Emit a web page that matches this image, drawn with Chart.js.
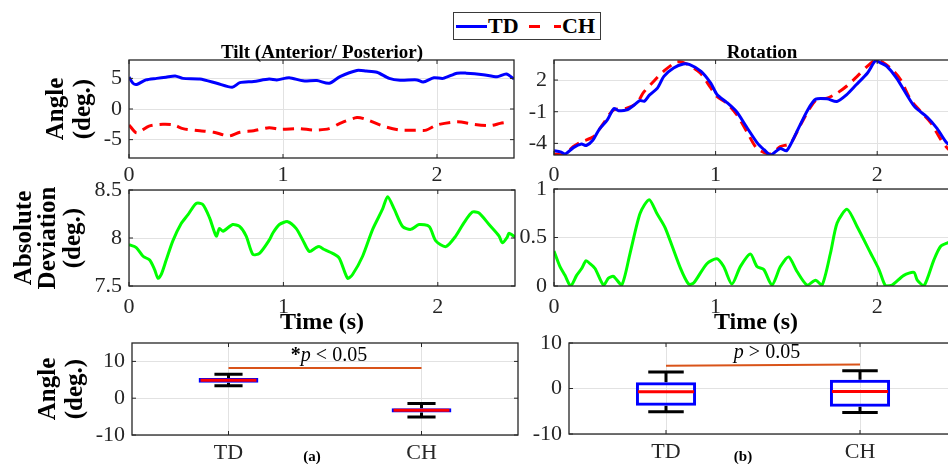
<!DOCTYPE html>
<html>
<head>
<meta charset="utf-8">
<script src="https://cdn.jsdelivr.net/npm/chart.js@4/dist/chart.umd.min.js"></script>
<style>
  body { margin: 0; width: 948px; height: 464px; overflow: hidden; background: #fff; position: relative; }
  canvas { position: absolute; left: 0; top: 0; }
  #legend { position: absolute; left: 453px; top: 12px; width: 146px; height: 26px; border: 1px solid #3a3a3a; background: #fff; z-index: 5;
            font-family: "Liberation Serif", serif; font-weight: bold; font-size: 22px; color: #000; }
  #legend .ln { position: absolute; top: 12px; height: 0; }
  #legend .lbl { position: absolute; top: 0; line-height: 26px; }
</style>
</head>
<body>
<div id="legend">
  <span class="ln" style="left:2px;width:31px;border-top:3px solid #0000ff"></span>
  <span class="lbl" style="left:34px">TD</span>
  <span class="ln" style="left:75px;width:11px;border-top:3px solid #ff0000"></span>
  <span class="ln" style="left:100px;width:7px;border-top:3px solid #ff0000"></span>
  <span class="lbl" style="left:108px">CH</span>
</div>
<canvas id="tilt" width="980" height="464"></canvas>
<canvas id="rot" width="980" height="464"></canvas>
<canvas id="tiltDev" width="980" height="464"></canvas>
<canvas id="rotDev" width="980" height="464"></canvas>
<canvas id="tiltBox" width="980" height="464"></canvas>
<canvas id="rotBox" width="980" height="464"></canvas>
<script>
// ---- data ----
const timeTicks = [0, 1, 2];

const tiltTdTime = [0, 0.026, 0.05, 0.11, 0.18, 0.24, 0.30, 0.35, 0.46, 0.57, 0.67, 0.72, 0.81, 0.91, 0.96, 1.04, 1.13, 1.22, 1.30, 1.37, 1.48, 1.54, 1.61, 1.69, 1.76, 1.87, 1.91, 1.98, 2.04, 2.13, 2.19, 2.30, 2.39, 2.45, 2.50];
const tiltTd = [5.2, 4.2, 4.0, 4.75, 5.0, 5.2, 5.4, 5.0, 4.9, 4.2, 3.55, 4.3, 4.5, 4.9, 4.75, 5.1, 4.6, 4.65, 4.2, 5.3, 6.3, 6.2, 6.0, 5.0, 4.7, 4.75, 4.4, 5.1, 5.0, 5.85, 5.85, 5.6, 5.25, 5.7, 4.9];
const tiltChTime = [0, 0.05, 0.13, 0.22, 0.29, 0.35, 0.46, 0.55, 0.65, 0.72, 0.81, 0.91, 0.98, 1.11, 1.20, 1.30, 1.37, 1.48, 1.54, 1.65, 1.76, 1.87, 1.93, 2.0, 2.13, 2.24, 2.35, 2.41, 2.45];
const tiltCh = [-2.6, -3.9, -2.8, -2.5, -2.6, -3.2, -3.55, -3.8, -4.4, -3.8, -3.55, -3.06, -3.3, -3.2, -3.45, -3.2, -2.35, -1.4, -1.7, -2.8, -3.45, -3.45, -3.45, -2.6, -2.1, -2.5, -2.7, -2.35, -2.2];
const tiltYTicks = [-5, 0, 5];

const rotTdTime = [0, 0.04, 0.07, 0.12, 0.17, 0.20, 0.24, 0.28, 0.33, 0.37, 0.40, 0.45, 0.49, 0.53, 0.56, 0.59, 0.64, 0.68, 0.74, 0.80, 0.84, 0.91, 0.97, 1.01, 1.07, 1.13, 1.19, 1.26, 1.30, 1.34, 1.40, 1.44, 1.50, 1.57, 1.62, 1.69, 1.75, 1.81, 1.87, 1.94, 1.99, 2.02, 2.06, 2.12, 2.23, 2.31, 2.37, 2.43, 2.50];
const rotTd = [-4.7, -4.8, -5.0, -4.4, -4.06, -4.2, -3.7, -2.67, -1.78, -0.7, -0.9, -0.83, -0.44, 0.06, 0.0, 0.57, 1.24, 2.35, 3.14, 3.52, 3.46, 2.83, 1.71, 0.6, -0.13, -1.0, -2.4, -4.0, -4.6, -5.1, -4.48, -4.7, -2.98, -0.83, 0.19, 0.22, -0.03, 0.6, 1.55, 2.67, 3.84, 3.62, 3.3, 2.19, -0.5, -1.52, -2.57, -3.94, -4.6];
const rotChTime = [0, 0.058, 0.12, 0.171, 0.244, 0.306, 0.368, 0.45, 0.512, 0.554, 0.616, 0.678, 0.76, 0.822, 0.905, 0.967, 1.008, 1.07, 1.132, 1.194, 1.256, 1.339, 1.401, 1.463, 1.525, 1.587, 1.628, 1.69, 1.752, 1.814, 1.876, 1.938, 1.99, 2.041, 2.103, 2.145, 2.207, 2.269, 2.331, 2.393, 2.442, 2.5];
const rotCh = [-5.0, -5.1, -4.3, -3.84, -3.37, -2.1, -0.83, -0.67, -0.19, 0.83, 1.87, 2.83, 3.71, 3.52, 2.67, 1.33, 0.44, -0.19, -1.3, -2.9, -4.48, -5.0, -4.3, -4.0, -2.25, -0.57, 0.19, 0.29, 0.76, 1.46, 2.35, 3.3, 3.87, 3.62, 2.83, 2.03, 0.13, -0.98, -2.03, -3.62, -4.57, -5.0];
const rotYTicks = [-4, -1, 2];

const tiltDevTime = [0, 0.047, 0.091, 0.134, 0.166, 0.188, 0.209, 0.241, 0.284, 0.338, 0.381, 0.435, 0.478, 0.522, 0.565, 0.586, 0.608, 0.672, 0.716, 0.759, 0.802, 0.845, 0.909, 0.931, 0.974, 1.028, 1.082, 1.125, 1.168, 1.211, 1.233, 1.265, 1.319, 1.362, 1.416, 1.448, 1.513, 1.578, 1.642, 1.675, 1.718, 1.772, 1.825, 1.879, 1.944, 1.987, 2.052, 2.116, 2.17, 2.224, 2.267, 2.332, 2.397, 2.418, 2.45, 2.461, 2.5];
const tiltDev = [7.93, 7.9, 7.81, 7.77, 7.67, 7.58, 7.62, 7.77, 7.97, 8.15, 8.24, 8.36, 8.35, 8.21, 8.02, 8.1, 8.07, 8.14, 8.12, 8.02, 7.83, 7.84, 7.98, 8.05, 8.14, 8.17, 8.1, 7.98, 7.86, 7.9, 7.91, 7.88, 7.84, 7.79, 7.58, 7.62, 7.81, 8.09, 8.3, 8.43, 8.3, 8.12, 8.09, 8.14, 8.12, 7.97, 7.91, 8.02, 8.16, 8.27, 8.26, 8.14, 8.02, 7.95, 8.01, 8.05, 8.01];
const tiltDevTicks = [7.5, 8, 8.5];

const rotDevTime = [0, 0.037, 0.068, 0.103, 0.14, 0.171, 0.198, 0.223, 0.254, 0.306, 0.337, 0.368, 0.419, 0.471, 0.533, 0.589, 0.636, 0.688, 0.781, 0.833, 0.864, 0.946, 1.008, 1.05, 1.101, 1.153, 1.215, 1.256, 1.298, 1.349, 1.401, 1.452, 1.504, 1.566, 1.618, 1.659, 1.711, 1.752, 1.814, 1.876, 1.959, 2.011, 2.052, 2.093, 2.165, 2.227, 2.248, 2.289, 2.351, 2.393, 2.442, 2.5];
const rotDev = [0.36, 0.2, 0.11, 0.0, 0.11, 0.18, 0.26, 0.23, 0.18, 0.01, 0.08, 0.1, 0.01, 0.34, 0.75, 0.89, 0.75, 0.6, 0.19, 0.02, 0.03, 0.23, 0.28, 0.2, 0.02, 0.2, 0.33, 0.2, 0.17, 0.01, 0.2, 0.3, 0.15, 0.01, 0.06, 0.01, 0.34, 0.65, 0.79, 0.61, 0.34, 0.17, 0.0, 0.01, 0.11, 0.14, 0.06, 0.0, 0.27, 0.41, 0.45, 0.5];
const rotDevTicks = [0, 0.5, 1];

const groups = ['TD', 'CH'];
const tiltBoxMin = [3.4, -5.1];
const tiltBoxQ1 = [4.2, -3.9];
const tiltBoxMedian = [4.9, -3.3];
const tiltBoxQ3 = [5.5, -2.7];
const tiltBoxMax = [6.5, -1.45];
const tiltPLine = [8.2, 8.2];

const rotBoxMin = [-5.1, -5.3];
const rotBoxQ1 = [-3.8, -4.0];
const rotBoxMedian = [-0.7, -0.65];
const rotBoxQ3 = [1.4, 1.9];
const rotBoxMax = [3.6, 3.9];
const rotPLine = [5.0, 5.3];

const boxYTicks = [-10, 0, 10];

// ---- styling helpers ----
const W = 980, H = 464;
const SERIF = '"Liberation Serif", "Times New Roman", serif';
const GRID = '#e2e2e2';
const AXIS = '#262626';
Chart.defaults.font.family = SERIF;
Chart.defaults.color = AXIS;

const tickFont = { family: SERIF, size: 22, lineHeight: 1.2 };

function fixedTicks(values) {
  return scale => { scale.ticks = values.map(v => ({ value: v })); };
}

function layoutFor(box, yWidth, xHeight) {
  return { padding: { left: box.left - yWidth, top: box.top, right: W - box.right, bottom: H - box.bottom - xHeight } };
}

function points(xs, ys) {
  return xs.map((x, i) => ({ x: x, y: ys[i] }));
}

function drawRuns(ctx, runs, cx, cy) {
  let total = 0;
  runs.forEach(r => { ctx.font = r.font; total += ctx.measureText(r.text).width; });
  let x = cx - total / 2;
  ctx.textAlign = 'left';
  ctx.textBaseline = 'middle';
  runs.forEach(r => { ctx.font = r.font; ctx.fillText(r.text, x, cy); x += ctx.measureText(r.text).width; });
}

// frame, inward ticks and free texts
const decor = {
  id: 'decor',
  afterDraw(chart, args, opts) {
    const { ctx, chartArea: a } = chart;
    const xs = chart.scales.x, ys = chart.scales.y;
    ctx.save();
    ctx.strokeStyle = AXIS;
    ctx.lineWidth = 1.3;
    ctx.strokeRect(a.left, a.top, a.right - a.left, a.bottom - a.top);
    ctx.lineWidth = 1;
    ctx.beginPath();
    xs.ticks.forEach((t, i) => {
      const px = xs.getPixelForTick(i);
      ctx.moveTo(px, a.bottom); ctx.lineTo(px, a.bottom - 4);
      ctx.moveTo(px, a.top); ctx.lineTo(px, a.top + 4);
    });
    ys.ticks.forEach((t, i) => {
      const py = ys.getPixelForTick(i);
      ctx.moveTo(a.left, py); ctx.lineTo(a.left + 4, py);
      ctx.moveTo(a.right, py); ctx.lineTo(a.right - 4, py);
    });
    ctx.stroke();
    ctx.fillStyle = '#000';
    (opts.texts || []).forEach(t => drawRuns(ctx, t.runs, t.x, t.y));
    ctx.restore();
  }
};

// whiskers, medians and the p-value label
const boxPlot = {
  id: 'boxPlot',
  beforeDatasetsDraw(chart, args, opts) {
    const { ctx } = chart;
    const y = chart.scales.y;
    const bars = chart.getDatasetMeta(0).data;
    ctx.save();
    ctx.strokeStyle = '#000';
    ctx.lineWidth = 3;
    bars.forEach((bar, i) => {
      const half = bar.width / 2 * opts.capRatio;
      const top = y.getPixelForValue(opts.max[i]);
      const bottom = y.getPixelForValue(opts.min[i]);
      ctx.beginPath();
      ctx.moveTo(bar.x, top); ctx.lineTo(bar.x, y.getPixelForValue(opts.q3[i]));
      ctx.moveTo(bar.x, bottom); ctx.lineTo(bar.x, y.getPixelForValue(opts.q1[i]));
      ctx.moveTo(bar.x - half, top); ctx.lineTo(bar.x + half, top);
      ctx.moveTo(bar.x - half, bottom); ctx.lineTo(bar.x + half, bottom);
      ctx.stroke();
    });
    ctx.restore();
  },
  afterDatasetsDraw(chart, args, opts) {
    const { ctx } = chart;
    const x = chart.scales.x, y = chart.scales.y;
    const bars = chart.getDatasetMeta(0).data;
    ctx.save();
    ctx.strokeStyle = '#ff0000';
    ctx.lineWidth = 3;
    bars.forEach((bar, i) => {
      const py = y.getPixelForValue(opts.median[i]);
      ctx.beginPath();
      ctx.moveTo(bar.x - bar.width / 2 + 2, py); ctx.lineTo(bar.x + bar.width / 2 - 2, py);
      ctx.stroke();
    });
    const cx = (x.getPixelForValue(0) + x.getPixelForValue(1)) / 2 + 4;
    const cy = y.getPixelForValue(Math.max(...opts.pLine)) - 12;
    ctx.fillStyle = '#000';
    drawRuns(ctx, opts.pText, cx, cy);
    ctx.restore();
  }
};

function lineChart(id, box, o) {
  return new Chart(document.getElementById(id), {
    type: 'line',
    data: { datasets: o.datasets },
    options: {
      responsive: false,
      animation: false,
      events: [],
      layout: layoutFor(box, o.yWidth, o.xHeight),
      elements: { point: { radius: 0 }, line: { tension: 0.25 } },
      plugins: { legend: { display: false }, tooltip: { enabled: false }, decor: { texts: o.texts || [] } },
      scales: {
        x: {
          type: 'linear', min: 0, max: 2.5,
          afterBuildTicks: fixedTicks(timeTicks),
          afterFit: s => { s.height = o.xHeight; },
          grid: { color: GRID, drawTicks: false },
          border: { display: false },
          ticks: { padding: o.xPad, font: tickFont, color: AXIS, maxRotation: 0, callback: v => String(v) },
          title: o.xTitle || { display: false }
        },
        y: {
          min: o.yMin, max: o.yMax,
          afterBuildTicks: fixedTicks(o.yTicks),
          afterFit: s => { s.width = o.yWidth; },
          grid: { color: GRID, drawTicks: false },
          border: { display: false },
          ticks: { padding: 7, font: tickFont, color: AXIS, callback: v => String(v) },
          title: o.yTitle || { display: false }
        }
      }
    },
    plugins: [decor]
  });
}

function boxChart(id, box, o) {
  return new Chart(document.getElementById(id), {
    type: 'bar',
    data: {
      labels: groups,
      datasets: [
        {
          type: 'bar',
          data: o.q1.map((q, i) => [q, o.q3[i]]),
          backgroundColor: 'rgba(0,0,0,0)',
          borderColor: '#0000ff',
          borderWidth: 3,
          borderSkipped: false,
          barPercentage: 0.31,
          categoryPercentage: 1
        },
        { type: 'line', data: o.pLine, borderColor: '#d95319', borderWidth: 2, pointRadius: 0 }
      ]
    },
    options: {
      responsive: false,
      animation: false,
      events: [],
      layout: layoutFor(box, o.yWidth, 30),
      plugins: {
        legend: { display: false }, tooltip: { enabled: false },
        decor: { texts: o.texts },
        boxPlot: { min: o.min, q1: o.q1, median: o.median, q3: o.q3, max: o.max, capRatio: o.capRatio, pLine: o.pLine, pText: o.pText }
      },
      scales: {
        x: {
          type: 'category', offset: true,
          afterFit: s => { s.height = 30; },
          grid: { color: GRID, drawTicks: false, offset: false },
          border: { display: false },
          ticks: { padding: 5, font: tickFont, color: AXIS, maxRotation: 0, autoSkip: false }
        },
        y: {
          min: -10, max: o.yMax,
          afterBuildTicks: fixedTicks(boxYTicks),
          afterFit: s => { s.width = o.yWidth; },
          grid: { color: GRID, drawTicks: false },
          border: { display: false },
          ticks: { padding: 7, font: tickFont, color: AXIS, callback: v => String(v) },
          title: o.yTitle || { display: false }
        }
      }
    },
    plugins: [boxPlot, decor]
  });
}

const titleFont = 'bold 19px ' + SERIF;
const yTitleFont = { family: SERIF, size: 25, weight: 'bold', lineHeight: 1.08 };
const timeTitle = { display: true, text: 'Time (s)', color: '#000', font: { family: SERIF, size: 24, weight: 'bold', lineHeight: 1.2 }, padding: { top: 0, bottom: 1 } };

lineChart('tilt', { left: 129, top: 60, right: 514, bottom: 158 }, {
  datasets: [
    { data: points(tiltTdTime, tiltTd), borderColor: '#0000ff', borderWidth: 3 },
    { data: points(tiltChTime, tiltCh), borderColor: '#ff0000', borderWidth: 3, borderDash: [11, 7] }
  ],
  yMin: -8, yMax: 8, yTicks: tiltYTicks, yWidth: 129, xHeight: 30, xPad: 4,
  yTitle: { display: true, text: ['Angle', '(deg.)'], color: '#000', font: yTitleFont, padding: { top: 43, bottom: 0 } },
  texts: [{ x: 322, y: 53, runs: [{ text: 'Tilt (Anterior/ Posterior)', font: titleFont }] }]
});

lineChart('rot', { left: 554, top: 60, right: 958, bottom: 155 }, {
  datasets: [
    { data: points(rotTdTime, rotTd), borderColor: '#0000ff', borderWidth: 3 },
    { data: points(rotChTime, rotCh), borderColor: '#ff0000', borderWidth: 3, borderDash: [11, 7] }
  ],
  yMin: -5.1, yMax: 3.9, yTicks: rotYTicks, yWidth: 60, xHeight: 30, xPad: 7,
  texts: [{ x: 762, y: 53, runs: [{ text: 'Rotation', font: titleFont }] }]
});

lineChart('tiltDev', { left: 129, top: 190, right: 515, bottom: 286 }, {
  datasets: [{ data: points(tiltDevTime, tiltDev), borderColor: '#00ff00', borderWidth: 3 }],
  yMin: 7.5, yMax: 8.5, yTicks: tiltDevTicks, yWidth: 129, xHeight: 52, xPad: 8,
  xTitle: timeTitle,
  yTitle: { display: true, text: ['Absolute', 'Deviation', '(deg.)'], color: '#000', font: { family: SERIF, size: 25, weight: 'bold', lineHeight: 0.98 }, padding: { top: 12, bottom: 0 } }
});

lineChart('rotDev', { left: 554, top: 189, right: 958, bottom: 286 }, {
  datasets: [{ data: points(rotDevTime, rotDev), borderColor: '#00ff00', borderWidth: 3 }],
  yMin: 0, yMax: 1, yTicks: rotDevTicks, yWidth: 60, xHeight: 52, xPad: 8,
  xTitle: timeTitle
});

const pFont = '20px ' + SERIF;
boxChart('tiltBox', { left: 132, top: 343, right: 518, bottom: 435 }, {
  min: tiltBoxMin, q1: tiltBoxQ1, median: tiltBoxMedian, q3: tiltBoxQ3, max: tiltBoxMax, pLine: tiltPLine,
  yMax: 15, yWidth: 132, capRatio: 0.47,
  yTitle: { display: true, text: ['Angle', '(deg.)'], color: '#000', font: yTitleFont, padding: { top: 35, bottom: 0 } },
  pText: [{ text: '*', font: 'bold ' + pFont }, { text: 'p', font: 'italic ' + pFont }, { text: ' < 0.05', font: pFont }],
  texts: [{ x: 312, y: 457, runs: [{ text: '(a)', font: 'bold 15px ' + SERIF }] }]
});

boxChart('rotBox', { left: 569, top: 343, right: 957, bottom: 434 }, {
  min: rotBoxMin, q1: rotBoxQ1, median: rotBoxMedian, q3: rotBoxQ3, max: rotBoxMax, pLine: rotPLine,
  yMax: 10, yWidth: 60, capRatio: 0.59,
  pText: [{ text: 'p', font: 'italic ' + pFont }, { text: ' > 0.05', font: pFont }],
  texts: [{ x: 743, y: 457, runs: [{ text: '(b)', font: 'bold 15px ' + SERIF }] }]
});
</script>
</body>
</html>
